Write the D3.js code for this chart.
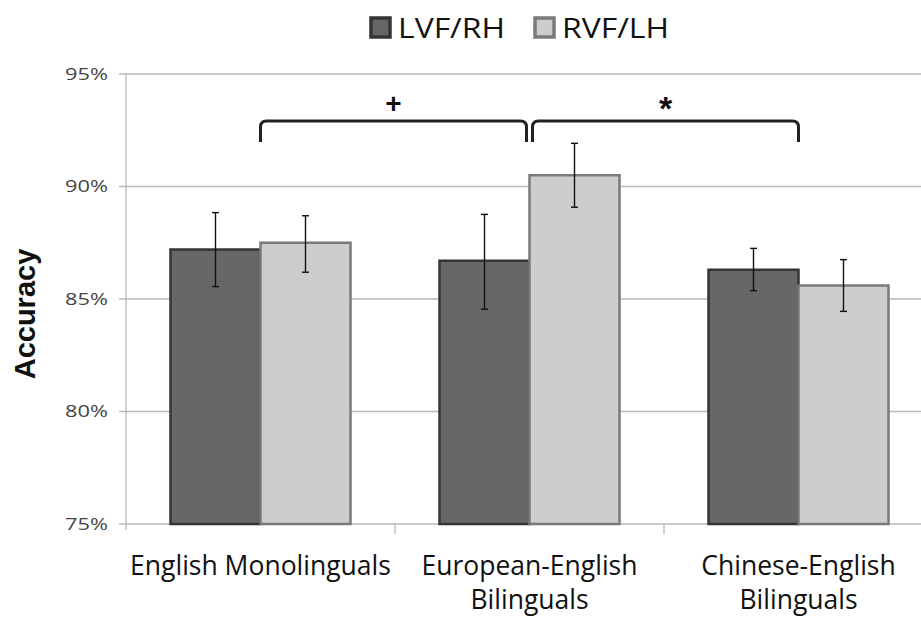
<!DOCTYPE html>
<html><head><meta charset="utf-8">
<script src="https://cdn.jsdelivr.net/npm/d3@7"></script>
<style>body{margin:0;background:#fff}svg{display:block}</style>
</head><body>
<svg id="c" width="921" height="617"></svg>
<script>
const categories = [["English Monolinguals"], ["European-English", "Bilinguals"], ["Chinese-English", "Bilinguals"]];
const seriesNames = ["LVF/RH", "RVF/LH"];
const lvfValues = [87.2, 86.7, 86.3];
const rvfValues = [87.5, 90.5, 85.6];
const lvfErrLow = [85.55, 84.55, 85.37];
const lvfErrHigh = [88.84, 88.76, 87.25];
const rvfErrLow = [86.19, 89.08, 84.45];
const rvfErrHigh = [88.70, 91.92, 86.75];
const yTicks = [75, 80, 85, 90, 95];
const brackets = [{from: 0, to: 1, label: "+"}, {from: 1, to: 2, label: "*"}];

const svg = d3.select("#c");
const font = "'Open Sans', sans-serif";
const x0 = d3.scaleBand().domain(d3.range(categories.length)).range([126, 933]).paddingInner(0).paddingOuter(0);
const x1 = d3.scaleBand().domain(seriesNames).range([0, 180]);
const groupOffset = (x0.bandwidth() - 180) / 2;
const y = d3.scaleLinear().domain([75, 95]).range([524, 74]);
const fills = {"LVF/RH": "#676767", "RVF/LH": "#cdcdcd"};
const strokes = {"LVF/RH": "#353535", "RVF/LH": "#7a7a7a"};

// gridlines
svg.append("g").selectAll("line").data(yTicks).join("line")
  .attr("x1", 119).attr("x2", 921).attr("y1", d => y(d)).attr("y2", d => y(d))
  .attr("stroke", "#b8b8b8").attr("stroke-width", 1.3);
// y axis line
svg.append("line").attr("x1", 126).attr("x2", 126).attr("y1", 74).attr("y2", 530)
  .attr("stroke", "#b8b8b8").attr("stroke-width", 1.3);
// y tick labels
svg.append("g").selectAll("text").data(yTicks).join("text")
  .attr("x", 108).attr("y", d => y(d)).attr("dy", "0.35em").attr("text-anchor", "end")
  .attr("font-family", font).attr("font-size", 17).attr("fill", "#444")
  .attr("textLength", 43).attr("lengthAdjust", "spacingAndGlyphs")
  .text(d => d + "%");
// category separators
svg.append("g").selectAll("line").data(d3.range(1, categories.length)).join("line")
  .attr("x1", d => x0(d)).attr("x2", d => x0(d)).attr("y1", 524).attr("y2", 534)
  .attr("stroke", "#b8b8b8").attr("stroke-width", 1.3);

// bars
const data = categories.map((c, i) => [
  {s: "LVF/RH", v: lvfValues[i], lo: lvfErrLow[i], hi: lvfErrHigh[i], i},
  {s: "RVF/LH", v: rvfValues[i], lo: rvfErrLow[i], hi: rvfErrHigh[i], i}
]).flat();
const bx = d => x0(d.i) + groupOffset + x1(d.s);
svg.append("g").selectAll("rect").data(data).join("rect")
  .attr("x", bx).attr("y", d => y(d.v)).attr("width", x1.bandwidth()).attr("height", d => y(75) - y(d.v))
  .attr("fill", d => fills[d.s]).attr("stroke", d => strokes[d.s]).attr("stroke-width", 2.5);
// error bars
const eg = svg.append("g").attr("stroke", "#111").attr("stroke-width", 1.4);
data.forEach(d => {
  const cx = bx(d) + x1.bandwidth() / 2;
  eg.append("line").attr("x1", cx).attr("x2", cx).attr("y1", y(d.hi)).attr("y2", y(d.lo));
  eg.append("line").attr("x1", cx - 3.5).attr("x2", cx + 3.5).attr("y1", y(d.hi)).attr("y2", y(d.hi));
  eg.append("line").attr("x1", cx - 3.5).attr("x2", cx + 3.5).attr("y1", y(d.lo)).attr("y2", y(d.lo));
});

// x labels
categories.forEach((lines, i) => {
  const t = svg.append("text").attr("text-anchor", "middle").attr("font-family", font)
    .attr("font-size", 26.5).attr("fill", "#111");
  lines.forEach((l, k) => t.append("tspan").attr("x", x0(i) + x0.bandwidth() / 2).attr("y", 575 + k * 34).text(l));
});

// axis title
svg.append("text").attr("transform", "translate(35,314) rotate(-90)").attr("text-anchor", "middle")
  .attr("font-family", "'Liberation Sans', Arial, sans-serif").attr("font-weight", "bold")
  .attr("font-size", 29).attr("fill", "#111").text("Accuracy");

// brackets
const bTop = 121, bBot = 142, r = 6;
brackets.forEach((b, k) => {
  const xa = x0(b.from) + x0.bandwidth() / 2 + (k === 1 ? 3 : 0);
  const xb = x0(b.to) + x0.bandwidth() / 2 - (k === 0 ? 3 : 0);
  svg.append("path")
    .attr("d", `M${xa},${bBot} L${xa},${bTop + r} Q${xa},${bTop} ${xa + r},${bTop} L${xb - r},${bTop} Q${xb},${bTop} ${xb},${bTop + r} L${xb},${bBot}`)
    .attr("fill", "none").attr("stroke", "#222").attr("stroke-width", 3);
  svg.append("text").attr("x", (xa + xb) / 2).attr("y", k === 0 ? 113 : 120).attr("text-anchor", "middle")
    .attr("font-family", "'Liberation Sans', Arial, sans-serif").attr("font-weight", "bold")
    .attr("font-size", k === 0 ? 28 : 34).attr("fill", "#111").text(b.label);
});

// legend
const lg = svg.append("g");
const legendX = [369, 533];
seriesNames.forEach((s, k) => {
  lg.append("rect").attr("x", legendX[k] + 2).attr("y", 18).attr("width", 19).attr("height", 19)
    .attr("fill", fills[s]).attr("stroke", strokes[s]).attr("stroke-width", 3.5);
  lg.append("text").attr("x", legendX[k] + 29).attr("y", 38).attr("font-family", font)
    .attr("font-size", 27).attr("fill", "#111").attr("textLength", 107).attr("lengthAdjust", "spacingAndGlyphs").text(s);
});
</script>
</body></html>
